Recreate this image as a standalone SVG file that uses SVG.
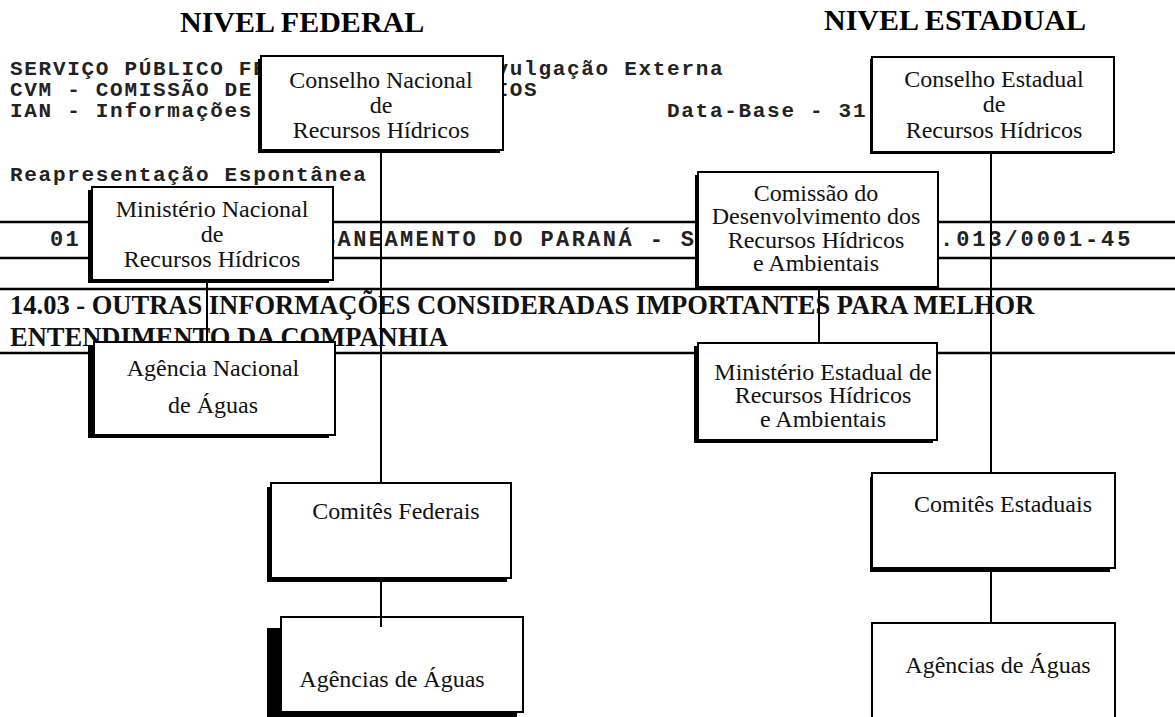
<svg xmlns="http://www.w3.org/2000/svg" width="1175" height="717" viewBox="0 0 1175 717">
<style>
.bg{fill:#fff}
.mono{font-family:"Liberation Mono","Courier New",monospace;font-weight:bold;fill:#222}
.h{font-size:21px;letter-spacing:1.7px}
.r{font-size:22px;letter-spacing:2.4px}
.title{font-family:"Liberation Serif","Times New Roman",serif;font-weight:bold;font-size:30px;fill:#000}
.sec{font-family:"Liberation Serif","Times New Roman",serif;font-weight:bold;font-size:26.5px;fill:#111}
.rule{stroke:#000;stroke-width:2.5;fill:none}
.box{fill:#fff;stroke:#000;stroke-width:2}
.sh{fill:#000}
.lbl{font-family:"Liberation Serif","Times New Roman",serif;font-size:24px;fill:#111;text-anchor:middle}
.conn line{stroke:#000;stroke-width:2}
</style>
<rect class="bg" x="0" y="0" width="1175" height="717"/>

<g id="page-text">
<text class="title" x="180" y="32">NIVEL FEDERAL</text>
<text class="title" x="824" y="30">NIVEL ESTADUAL</text>
<text class="mono h" x="10" y="75">SERVIÇO PÚBLICO FE</text>
<text class="mono h" x="495.5" y="75">vulgação Externa</text>
<text class="mono h" x="10" y="96">CVM - COMISSÃO DE</text>
<text class="mono h" x="495.5" y="96">IOS</text>
<text class="mono h" x="10" y="117">IAN - Informações</text>
<text class="mono h" x="667" y="117">Data-Base - 31</text>
<text class="mono h" x="10" y="181">Reapresentação Espontânea</text>
<text class="mono r" x="50" y="246">01</text>
<text class="mono r" x="322" y="246">SANEAMENTO DO PARANÁ - S</text>
<text class="mono r" x="924" y="246" style="letter-spacing:2.9px">4.013/0001-45</text>
<text class="sec" x="10" y="314">14.03 - OUTRAS INFORMAÇÕES CONSIDERADAS IMPORTANTES PARA MELHOR</text>
<text class="sec" x="10" y="346">ENTENDIMENTO DA COMPANHIA</text>
</g>

<g id="rules">
<line class="rule" x1="0" y1="222" x2="1175" y2="222"/>
<line class="rule" x1="0" y1="258" x2="1175" y2="258"/>
<line class="rule" x1="0" y1="289" x2="1175" y2="289"/>
<line class="rule" x1="0" y1="353" x2="1175" y2="353"/>
</g>

<g id="conselho-nacional">
<rect class="sh" x="258" y="59" width="242" height="94"/>
<rect class="box" x="261" y="56" width="242" height="94"/>
<text class="lbl" x="381" y="88">Conselho Nacional</text>
<text class="lbl" x="381" y="113">de</text>
<text class="lbl" x="381" y="138">Recursos Hídricos</text>
</g>

<g id="ministerio-nacional">
<rect class="sh" x="88" y="190" width="241" height="93"/>
<rect class="box" x="92" y="187" width="241" height="93"/>
<text class="lbl" x="212" y="217">Ministério Nacional</text>
<text class="lbl" x="212" y="242">de</text>
<text class="lbl" x="212" y="267">Recursos Hídricos</text>
</g>

<g id="agencia-nacional">
<rect class="sh" x="88" y="345" width="241" height="93"/>
<rect class="box" x="94" y="342" width="241" height="93"/>
<text class="lbl" x="213" y="376">Agência Nacional</text>
<text class="lbl" x="213" y="413">de Águas</text>
</g>

<g id="comites-federais">
<rect class="sh" x="267" y="487" width="240" height="95"/>
<rect class="box" x="271" y="483" width="240" height="95"/>
<text class="lbl" x="396" y="519">Comitês Federais</text>
</g>

<g id="agencias-federal">
<rect class="sh" x="267" y="628" width="250" height="89"/>
<rect class="box" x="281" y="617" width="242" height="95"/>
<text class="lbl" x="392" y="687">Agências de Águas</text>
</g>

<g id="conselho-estadual">
<rect class="sh" x="870" y="59" width="242" height="95"/>
<rect class="box" x="872" y="57" width="242" height="95"/>
<text class="lbl" x="994" y="87">Conselho Estadual</text>
<text class="lbl" x="994" y="112">de</text>
<text class="lbl" x="994" y="138">Recursos Hídricos</text>
</g>

<g id="comissao">
<rect class="sh" x="695" y="175" width="240" height="115"/>
<rect class="box" x="698" y="172" width="240" height="115"/>
<text class="lbl" x="816" y="201">Comissão do</text>
<text class="lbl" x="816" y="224">Desenvolvimento dos</text>
<text class="lbl" x="816" y="248">Recursos Hídricos</text>
<text class="lbl" x="816" y="271">e Ambientais</text>
</g>

<g id="ministerio-estadual">
<rect class="sh" x="694" y="346" width="239" height="97"/>
<rect class="box" x="698" y="343" width="239" height="97"/>
<text class="lbl" x="823" y="380">Ministério Estadual de</text>
<text class="lbl" x="823" y="403">Recursos Hídricos</text>
<text class="lbl" x="823" y="427">e Ambientais</text>
</g>

<g id="comites-estaduais">
<rect class="sh" x="870" y="477" width="240" height="95"/>
<rect class="box" x="872" y="473" width="243" height="95"/>
<text class="lbl" x="1003" y="512">Comitês Estaduais</text>
</g>

<g id="agencias-estadual">
<rect class="box" x="872" y="623" width="243" height="110"/>
<text class="lbl" x="998" y="673">Agências de Águas</text>
</g>

<g id="connectors" class="conn">
<line x1="381" y1="150" x2="381" y2="483"/>
<line x1="381" y1="578" x2="381" y2="627"/>
<line x1="207" y1="280" x2="207" y2="342"/>
<line x1="991" y1="152" x2="991" y2="473"/>
<line x1="991" y1="568" x2="991" y2="623"/>
<line x1="819" y1="287" x2="819" y2="343"/>
</g>
</svg>
